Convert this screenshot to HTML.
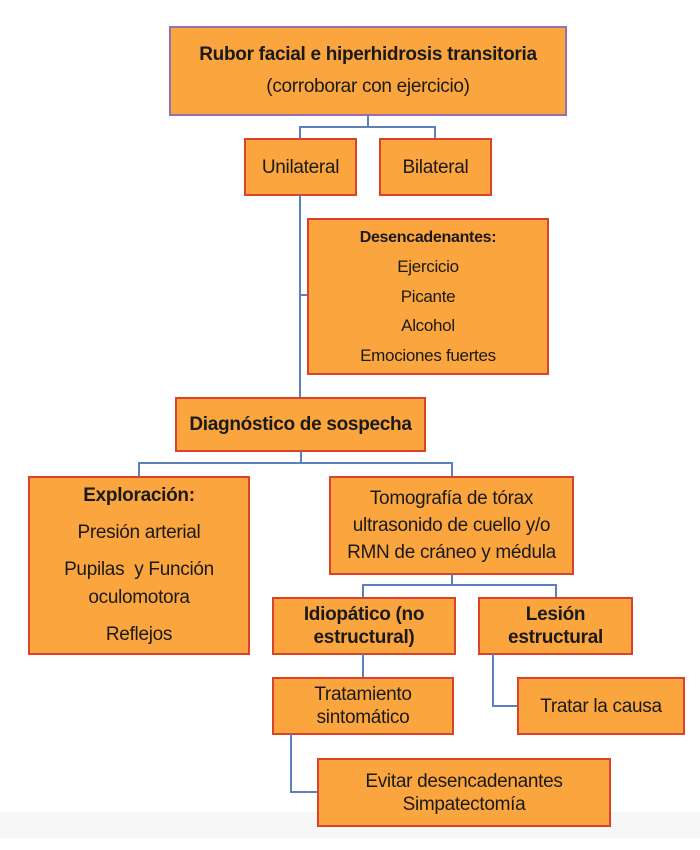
<!DOCTYPE html>
<html><head><meta charset="utf-8"><style>
body{margin:0;width:700px;height:850px;background:#fff;position:relative;overflow:hidden;font-family:"Liberation Sans",sans-serif;color:#1a1a1a}
.b{position:absolute;box-sizing:border-box;background:#fba53f;border:2px solid #d9432b;display:flex;flex-direction:column;justify-content:center;align-items:center;text-align:center;font-size:19px;line-height:23px;letter-spacing:-0.3px;white-space:nowrap}
.l{position:absolute;background:#5b7fc0}
.bold{font-weight:bold}
</style></head><body>
<div style="position:absolute;left:0;top:812px;width:700px;height:26px;background:#f7f7f7"></div>

<div class="b" style="left:169px;top:26px;width:398px;height:90px;border-color:#9a6db0;font-size:19px;line-height:32px"><div class="bold">Rubor facial e hiperhidrosis transitoria</div><div>(corroborar con ejercicio)</div></div>

<div class="l" style="left:367px;top:115px;width:2px;height:13px"></div>
<div class="l" style="left:299px;top:126px;width:137px;height:2px"></div>
<div class="l" style="left:299px;top:126px;width:2px;height:13px"></div>
<div class="l" style="left:434px;top:126px;width:2px;height:13px"></div>

<div class="b" style="left:244px;top:138px;width:113px;height:58px;font-size:19px">Unilateral</div>
<div class="b" style="left:379px;top:138px;width:113px;height:58px;font-size:19px">Bilateral</div>

<div class="l" style="left:299px;top:195px;width:2px;height:203px"></div>
<div class="l" style="left:299px;top:294px;width:9px;height:2px"></div>

<div class="b" style="left:307px;top:218px;width:242px;height:157px;font-size:17px;line-height:29.5px"><div class="bold" style="font-size:16px">Desencadenantes:</div><div>Ejercicio</div><div>Picante</div><div>Alcohol</div><div>Emociones fuertes</div></div>

<div class="b bold" style="left:175px;top:397px;width:251px;height:55px;font-size:19px">Diagnóstico de sospecha</div>

<div class="l" style="left:300px;top:451px;width:2px;height:13px"></div>
<div class="l" style="left:138px;top:462px;width:315px;height:2px"></div>
<div class="l" style="left:138px;top:462px;width:2px;height:15px"></div>
<div class="l" style="left:451px;top:462px;width:2px;height:15px"></div>

<div class="b" style="left:28px;top:476px;width:222px;height:179px;font-size:19px;line-height:28px;justify-content:flex-start;padding-top:4px"><div class="bold">Exploración:</div><div style="margin-top:9px">Presión arterial</div><div style="margin-top:9px">Pupilas&nbsp; y Función</div><div>oculomotora</div><div style="margin-top:9px">Reflejos</div></div>

<div class="b" style="left:329px;top:476px;width:245px;height:99px;font-size:19px;line-height:27px">Tomografía de tórax<br>ultrasonido de cuello y/o<br>RMN de cráneo y médula</div>

<div class="l" style="left:451px;top:574px;width:2px;height:12px"></div>
<div class="l" style="left:362px;top:584px;width:195px;height:2px"></div>
<div class="l" style="left:362px;top:584px;width:2px;height:14px"></div>
<div class="l" style="left:555px;top:584px;width:2px;height:14px"></div>

<div class="b bold" style="left:272px;top:597px;width:184px;height:58px;font-size:19px;line-height:23px">Idiopático (no<br>estructural)</div>
<div class="b bold" style="left:478px;top:597px;width:155px;height:58px;font-size:19px;line-height:23px">Lesión<br>estructural</div>

<div class="l" style="left:362px;top:654px;width:2px;height:24px"></div>
<div class="b" style="left:272px;top:677px;width:182px;height:58px;font-size:19px;line-height:23px">Tratamiento<br>sintomático</div>

<div class="l" style="left:492px;top:654px;width:2px;height:53px"></div>
<div class="l" style="left:492px;top:705px;width:26px;height:2px"></div>
<div class="b" style="left:517px;top:677px;width:168px;height:58px;font-size:19px">Tratar la causa</div>

<div class="l" style="left:290px;top:734px;width:2px;height:59px"></div>
<div class="l" style="left:290px;top:791px;width:28px;height:2px"></div>
<div class="b" style="left:317px;top:758px;width:294px;height:69px;font-size:19px;line-height:23px">Evitar desencadenantes<br>Simpatectomía</div>
</body></html>
